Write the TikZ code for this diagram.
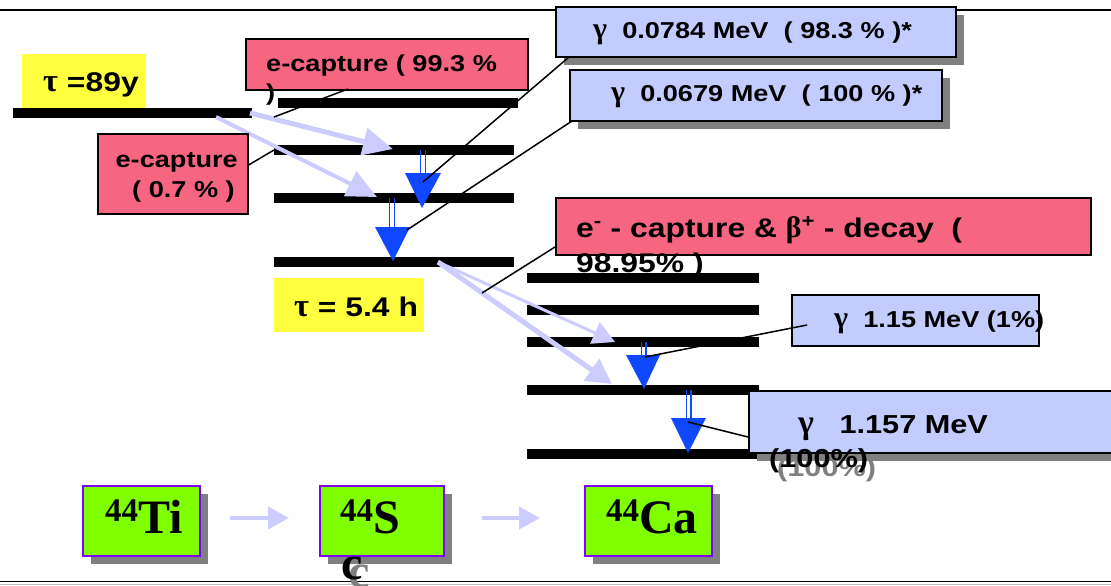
\documentclass[tikz,border=0pt]{standalone}
\usepackage{graphicx}
\usepackage{fontspec}
\setmainfont{Liberation Sans}
\newfontfamily\fA[FakeStretch=1.18]{Liberation Sans}
\newfontfamily\fG{Liberation Serif}
\newfontfamily\fT{Liberation Serif}
\usetikzlibrary{arrows.meta,shadows}
\definecolor{rbox}{RGB}{246,102,128}
\definecolor{gbox}{RGB}{194,204,255}
\definecolor{lav}{RGB}{204,204,255}
\definecolor{bluA}{RGB}{16,72,255}
\definecolor{ylw}{RGB}{255,255,64}
\definecolor{grn}{RGB}{128,255,0}
\definecolor{pur}{RGB}{128,0,255}
\definecolor{shg}{RGB}{128,128,128}
\newcommand{\fsz}[1]{\fontsize{#1}{#1}\selectfont}
\newcommand{\myg}{{\fG\scalebox{1.3}{γ}}}
\newcommand{\myt}{{\fG\scalebox{1.2}{τ}}}
\newcommand{\myb}{{\fG\scalebox{1.1}{β}}}
\tikzset{
  lvl/.style={line width=10pt},
  conn/.style={line width=1.5pt},
  bx/.style={draw=black, line width=1.6pt, inner sep=0pt, anchor=north west},
  redb/.style={bx, fill=rbox},
  gamb/.style={bx, fill=gbox},
  yelb/.style={inner sep=0pt, anchor=north west, fill=ylw},
  nucb/.style={draw=pur, fill=grn, line width=2pt, inner sep=0pt, anchor=north west},
  shad/.style={drop shadow={opacity=1, fill=shg, shadow xshift=8pt, shadow yshift=-8pt}},
  txt/.style={inner sep=0pt, anchor=base west},
  txe/.style={inner sep=0pt, anchor=base east},
  lavar/.style={draw=lav, line width=#1},
  bluel/.style={draw=bluA, line width=1.6pt},
}
\begin{document}
\begin{tikzpicture}[x=1pt,y=-1pt]
\useasboundingbox (0,0) rectangle (1111,586);
\clip (0,0) rectangle (1111,586);
% frame lines
\draw[line width=1.5pt] (0,10) -- (1111,10);
\draw[line width=1pt, shg!50] (0,584) -- (1111,584);
\draw[line width=1.5pt] (0,581.5) -- (1111,581.5);

% yellow lifetime boxes
\node[yelb, minimum width=124pt, minimum height=54pt] (y1) at (22,54) {};
\node[yelb, minimum width=150pt, minimum height=54pt] (y2) at (274,278) {};

% levels
\draw[lvl] (13,113) -- (252,113);
\draw[lvl] (278,102.5) -- (518,102.5);
\draw[lvl] (274,150) -- (514,150);
\draw[lvl] (274,198) -- (514,198);
\draw[lvl] (274,262) -- (514,262);
\draw[lvl] (527,278) -- (759,278);
\draw[lvl] (527,310) -- (759,310);
\draw[lvl] (527,342) -- (759,342);
\draw[lvl] (527,390) -- (759,390);
\draw[lvl] (527,454) -- (759,454);

% decay arrows (lavender)
\coordinate (a1s) at (250,113); \coordinate (a1e) at (393,149);
\coordinate (a2s) at (216,117); \coordinate (a2e) at (377,197);
\coordinate (a3s) at (438,262); \coordinate (a3e) at (615,342);
\coordinate (a4e) at (612,384);
\draw[lavar=5pt, -{Triangle[length=30pt,width=27pt]}] (a1s) -- (a1e);
\draw[lavar=4pt, -{Triangle[length=30pt,width=27pt]}] (a2s) -- (a2e);
\draw[lavar=3pt, -{Triangle[length=22pt,width=23pt]}] (a3s) -- (a3e);
\draw[lavar=5pt, -{Triangle[length=25pt,width=26pt]}] (a3s) -- (a4e);

% gamma arrows (blue)
\draw[bluel] (420.5,150) -- (420.5,174) (425.5,150) -- (425.5,174);
\fill[bluA] (405,173) -- (441,173) -- (422,208) -- cycle;
\draw[bluel] (389.5,198) -- (389.5,228) (394.5,198) -- (394.5,228);
\fill[bluA] (375,227) -- (410,227) -- (393,261) -- cycle;
\draw[bluel] (641.5,342) -- (641.5,356) (646,342) -- (646,356);
\fill[bluA] (626,355) -- (660,355) -- (644,389) -- cycle;
\draw[bluel] (686.5,390) -- (686.5,419) (691,390) -- (691,419);
\fill[bluA] (671,418) -- (706,418) -- (688,453) -- cycle;

% boxes
\node[redb, minimum width=282pt, minimum height=51pt] (b1) at (245,38) {};
\node[redb, minimum width=150pt, minimum height=80pt] (b2) at (97,133) {};
\node[gamb, shad, minimum width=400pt, minimum height=50pt] (g1) at (555,6) {};
\node[gamb, shad, minimum width=372pt, minimum height=51pt] (g2) at (569,69) {};
\node[redb, minimum width=535pt, minimum height=57pt] (b3) at (555,197) {};
\node[gamb, minimum width=247pt, minimum height=51pt] (g3) at (791,294) {};
\node[gamb, shad, minimum width=380pt, minimum height=62pt] (g4) at (748,390) {};

% connectors
\coordinate (c1) at (274,117);
\coordinate (c2) at (274,150);
\coordinate (c3) at (423,182);
\coordinate (c4) at (407,230);
\coordinate (c5) at (482,293);
\coordinate (c6) at (645,357);
\coordinate (c7) at (688,422);
\draw[conn] (348,89) -- (c1);
\draw[conn] (b2.east |- 0,165) -- (c2);
\draw[conn] (569,57) -- (c3);
\draw[conn] (572,121) -- (c4);
\draw[conn] (b3.west |- 0,247) -- (c5);
\draw[conn] (807,325) -- (c6);
\draw[conn] (g4.west |- 0,437) -- (c7);

% texts
\node[txt, font=\fA\bfseries\fsz{27}] (tt1) at (43,92) {\myt\ =89y};
\node[txt, font=\fA\bfseries\fsz{27}] (tt2) at (294,316) {\myt\ = 5.4 h};
\node[txt, font=\fA\bfseries\fsz{23}] (t1a) at (266,72) {e-capture ( 99.3 \%};
\node[txt, font=\fA\bfseries\fsz{23}] (t1b) at (266,100) {)};
\node[txe, font=\fA\bfseries\fsz{23}] (t2a) at (238,167) {e-capture};
\node[txe, font=\fA\bfseries\fsz{23}] (t2b) at (235,197) {( 0.7 \% )};
\node[txt, font=\fA\bfseries\fsz{23}] (tg1) at (593,39) {\myg\ \ 0.0784 MeV \ ( 98.3 \% )*};
\node[txt, font=\fA\bfseries\fsz{23}] (tg2) at (611,101) {\myg\ \ 0.0679 MeV \ ( 100 \% )*};
\node[txt, font=\fA\bfseries\fsz{27}] (t3a) at (576,237) {e\textsuperscript{-} - capture \& \myb\textsuperscript{+} - decay \ (};
\node[txt, font=\fA\bfseries\fsz{27}] (t3b) at (576,272) {98.95\% )};
\node[txt, font=\fA\bfseries\fsz{23}] (tg3) at (834,327) {\myg\ \ 1.15 MeV (1\%)};
\node[txt, font=\fA\bfseries\fsz{26}] (tg4a) at (798,433) {\myg\ \ \ 1.157 MeV};
\node[txt, font=\fA\bfseries\fsz{26}, text=shg] (tg4s) at (777,476) {(100\%)};
\node[txt, font=\fA\bfseries\fsz{26}] (tg4b) at (769,467) {(100\%)};

% nuclei
\node[nucb, shad, minimum width=117pt, minimum height=70pt] (nTi) at (82,485) {};
\node[nucb, shad, minimum width=124pt, minimum height=70pt] (nSc) at (319,485) {};
\node[nucb, shad, minimum width=127pt, minimum height=70pt] (nCa) at (584,485) {};
\coordinate (d1s) at (230,518); \coordinate (d1e) at (289,518);
\coordinate (d2s) at (482,518); \coordinate (d2e) at (540,518);
\draw[lavar=4pt, -{Triangle[length=21pt,width=22pt]}] (d1s) -- (d1e);
\draw[lavar=4pt, -{Triangle[length=21pt,width=22pt]}] (d2s) -- (d2e);
\node[txt, font=\fT\bfseries\fsz{48}] (lTi) at (105,533) {\raisebox{12pt}{\fsz{33}44}Ti};
\node[txt, font=\fT\bfseries\fsz{48}] (lSc) at (340,533) {\raisebox{12pt}{\fsz{33}44}S};
\node[txt, font=\fT\bfseries\fsz{48}, text=shg] (lScs) at (348,587) {c};
\node[txt, font=\fT\bfseries\fsz{48}] (lScc) at (341,579) {c};
\node[txt, font=\fT\bfseries\fsz{48}] (lCa) at (606,533) {\raisebox{12pt}{\fsz{33}44}Ca};
\end{tikzpicture}
\end{document}
